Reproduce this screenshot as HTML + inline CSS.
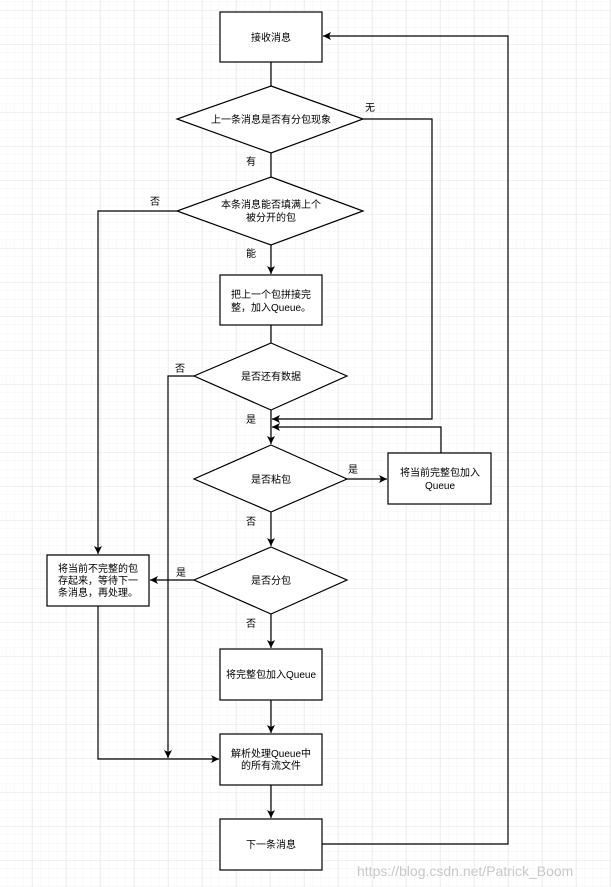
<!DOCTYPE html>
<html><head><meta charset="utf-8"><style>
html,body{margin:0;padding:0;background:#fff;}
svg{display:block;}
text{font-family:"Liberation Sans","Noto Sans CJK SC",sans-serif;font-size:10px;fill:#000;}
</style></head><body>
<svg width="611" height="887" viewBox="0 0 611 887" xmlns="http://www.w3.org/2000/svg">
<defs>
<pattern id="minor" x="-2" y="2" width="8.5" height="8.5" patternUnits="userSpaceOnUse">
<path d="M8.5 0V8.5M0 8.5H8.5" stroke="#f3f3f3" stroke-width="1" fill="none"/>
</pattern>
<pattern id="major" x="-2" y="10" width="34" height="34" patternUnits="userSpaceOnUse">
<path d="M0 0V34M0 0H34" stroke="#e3e3e3" stroke-width="1" fill="none"/>
</pattern>
<marker id="a" markerWidth="10" markerHeight="10" refX="8" refY="5" orient="auto" markerUnits="userSpaceOnUse">
<path d="M0,1 L8,5 L0,9 L2,5 Z" fill="#000"/>
</marker>
</defs>
<rect width="611" height="887" fill="url(#minor)"/>
<rect width="611" height="887" fill="url(#major)"/>
<g stroke="#000" stroke-width="1.2" fill="none">
<!-- boxes -->
<rect x="220" y="12" width="102" height="50" fill="#fff"/>
<rect x="220" y="275" width="102" height="50" fill="#fff"/>
<rect x="388" y="453" width="103" height="51" fill="#fff"/>
<rect x="47" y="555" width="102" height="51" fill="#fff"/>
<rect x="220" y="649" width="102" height="51" fill="#fff"/>
<rect x="220" y="734" width="102" height="51" fill="#fff"/>
<rect x="220" y="819" width="102" height="51" fill="#fff"/>
<!-- diamonds -->
<polygon points="271,86 363,119 271,153 177,119" fill="#fff"/>
<polygon points="271,177 363,211 271,245 177,211" fill="#fff"/>
<polygon points="271,343 347,376 271,410 194,376" fill="#fff"/>
<polygon points="271,445 347,479 271,512 194,479" fill="#fff"/>
<polygon points="271,547 347,580 271,614 194,580" fill="#fff"/>
<!-- connectors -->
<path d="M271 62V86"/>
<path d="M271 153V177"/>
<path d="M271 245V274" marker-end="url(#a)"/>
<path d="M271 325V343"/>
<path d="M271 410V444" marker-end="url(#a)"/>
<path d="M363 119H432V419H272" marker-end="url(#a)"/>
<path d="M441 453V427H272" marker-end="url(#a)"/>
<path d="M347 479H387" marker-end="url(#a)"/>
<path d="M271 512V546" marker-end="url(#a)"/>
<path d="M194 580H150" marker-end="url(#a)"/>
<path d="M177 211H98V554" marker-end="url(#a)"/>
<path d="M194 376H168V758" marker-end="url(#a)"/>
<path d="M98 606V759H219" marker-end="url(#a)"/>
<path d="M271 614V648" marker-end="url(#a)"/>
<path d="M271 700V733" marker-end="url(#a)"/>
<path d="M271 785V818" marker-end="url(#a)"/>
<path d="M322 844H508V36H323" marker-end="url(#a)"/>
</g>
<g text-anchor="middle">
<text x="271" y="41">接收消息</text>
<text x="271" y="123">上一条消息是否有分包现象</text>
<text x="271" y="208">本条消息能否填满上个</text>
<text x="271" y="221">被分开的包</text>
<text x="271" y="298">把上一个包拼接完</text>
<text x="271" y="311">整，加入Queue。</text>
<text x="271" y="380">是否还有数据</text>
<text x="271" y="483">是否粘包</text>
<text x="440" y="476">将当前完整包加入</text>
<text x="440" y="489">Queue</text>
<text x="271" y="584">是否分包</text>
<text x="98" y="572">将当前不完整的包</text>
<text x="98" y="584">存起来，等待下一</text>
<text x="98" y="596">条消息，再处理。</text>
<text x="271" y="678">将完整包加入Queue</text>
<text x="271" y="757">解析处理Queue中</text>
<text x="271" y="769">的所有流文件</text>
<text x="271" y="848">下一条消息</text>
<text x="370" y="111">无</text>
<text x="251" y="165">有</text>
<text x="155" y="205">否</text>
<text x="251" y="257">能</text>
<text x="180" y="372">否</text>
<text x="251" y="423">是</text>
<text x="353" y="473">是</text>
<text x="251" y="525">否</text>
<text x="181" y="576">是</text>
<text x="251" y="627">否</text>
</g>
<text x="357" y="876" style="font-size:14px;fill:#c8c8c8">https://blog.csdn.net/Patrick_Boom</text>
</svg>
</body></html>
